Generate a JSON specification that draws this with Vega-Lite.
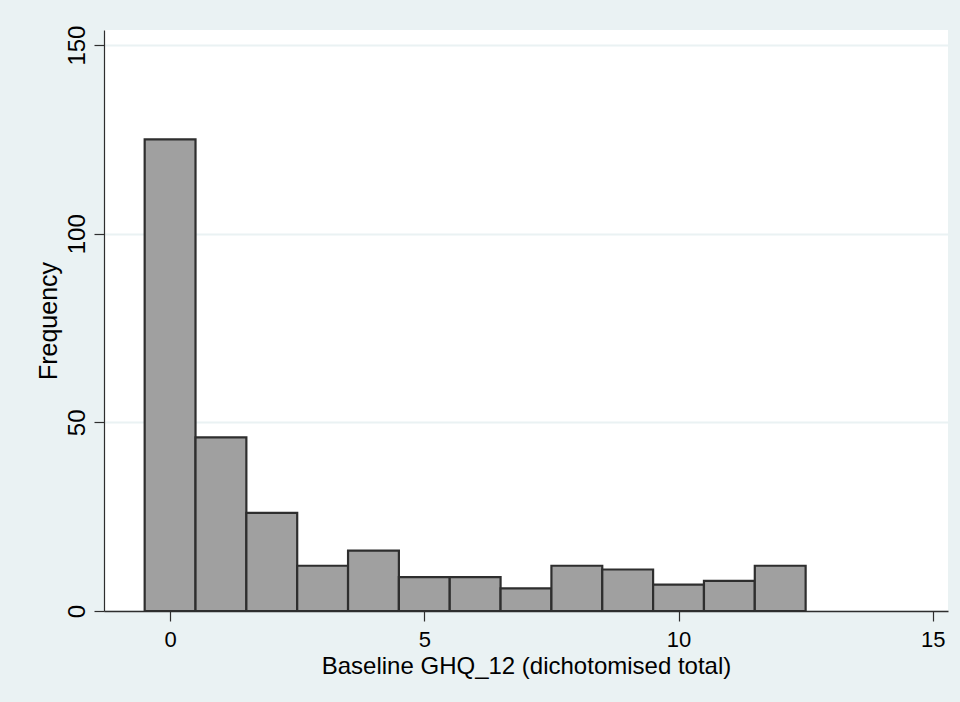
{
  "$schema": "https://vega.github.io/schema/vega-lite/v6.json",
  "autosize": "none",
  "width": 844,
  "height": 581,
  "padding": {"left": 104, "top": 30, "right": 12, "bottom": 91},
  "background": "#EAF2F3",
  "data": {
    "values": [
      {"lo": -0.5, "hi": 0.5, "frequency": 125},
      {"lo": 0.5, "hi": 1.5, "frequency": 46},
      {"lo": 1.5, "hi": 2.5, "frequency": 26},
      {"lo": 2.5, "hi": 3.5, "frequency": 12},
      {"lo": 3.5, "hi": 4.5, "frequency": 16},
      {"lo": 4.5, "hi": 5.5, "frequency": 9},
      {"lo": 5.5, "hi": 6.5, "frequency": 9},
      {"lo": 6.5, "hi": 7.5, "frequency": 6},
      {"lo": 7.5, "hi": 8.5, "frequency": 12},
      {"lo": 8.5, "hi": 9.5, "frequency": 11},
      {"lo": 9.5, "hi": 10.5, "frequency": 7},
      {"lo": 10.5, "hi": 11.5, "frequency": 8},
      {"lo": 11.5, "hi": 12.5, "frequency": 12}
    ]
  },
  "mark": {"type": "rect", "fill": "#A0A0A0", "stroke": "#2E2E2E", "strokeWidth": 2.2},
  "encoding": {
    "x": {
      "field": "lo",
      "type": "quantitative",
      "scale": {"domain": [-1.3, 15.3], "nice": false, "zero": false},
      "axis": {
        "title": "Baseline GHQ_12 (dichotomised total)",
        "values": [0, 5, 10, 15],
        "grid": false,
        "domainColor": "#2E2E2E",
        "domainWidth": 1.5,
        "tickColor": "#2E2E2E",
        "tickWidth": 1.2,
        "tickSize": 10,
        "labelFont": "Liberation Sans",
        "labelFontSize": 22,
        "labelColor": "#000000",
        "labelBaseline": "alphabetic",
        "labelPadding": 25,
        "labelFlush": false,
        "titleFont": "Liberation Sans",
        "titleFontSize": 24,
        "titleFontWeight": "normal",
        "titleColor": "#000000",
        "titleBaseline": "alphabetic",
        "titleY": 62
      }
    },
    "x2": {"field": "hi"},
    "y": {
      "field": "frequency",
      "type": "quantitative",
      "scale": {"domain": [0, 154], "nice": false},
      "axis": {
        "title": "Frequency",
        "values": [0, 50, 100, 150],
        "grid": true,
        "gridColor": "#EAF2F3",
        "gridWidth": 2,
        "domainColor": "#2E2E2E",
        "domainWidth": 1.2,
        "tickColor": "#2E2E2E",
        "tickWidth": 1.2,
        "tickSize": 10,
        "labelFont": "Liberation Sans",
        "labelFontSize": 24,
        "labelColor": "#000000",
        "labelAngle": -90,
        "labelAlign": "center",
        "labelBaseline": "alphabetic",
        "labelPadding": 10,
        "labelFlush": false,
        "titleFont": "Liberation Sans",
        "titleFontSize": 25,
        "titleFontWeight": "normal",
        "titleColor": "#000000",
        "titleAngle": -90,
        "titleBaseline": "alphabetic",
        "titleX": -48
      }
    },
    "y2": {"datum": 0}
  },
  "config": {
    "view": {"fill": "#FFFFFF", "stroke": null}
  }
}
